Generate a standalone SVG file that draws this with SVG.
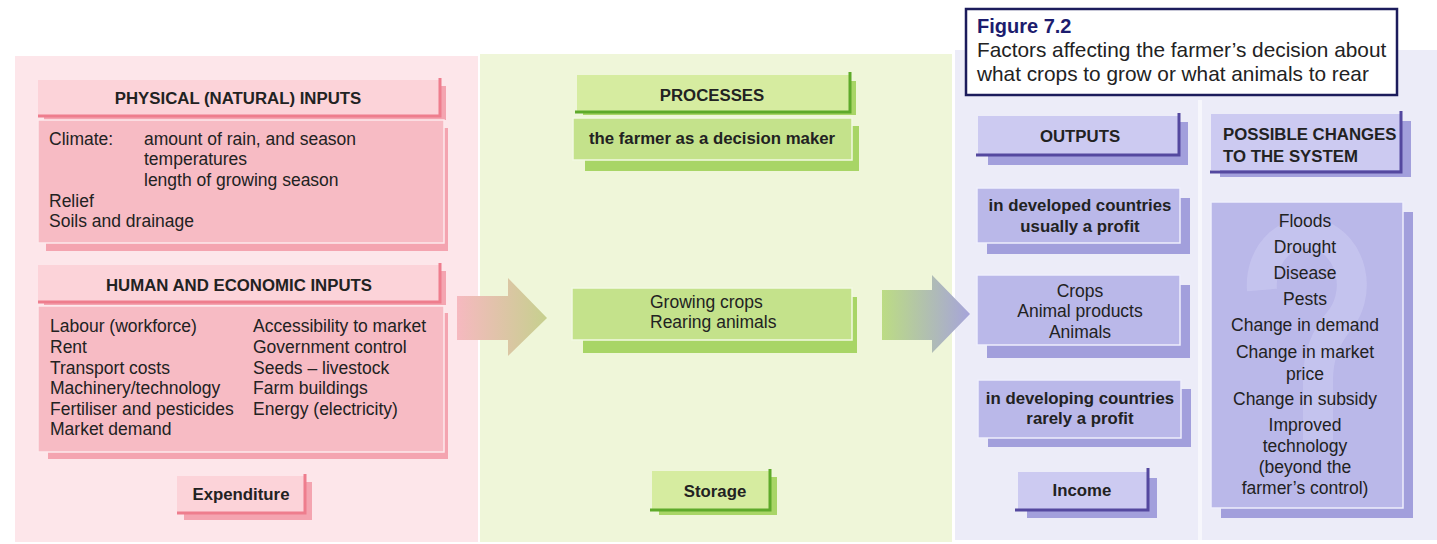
<svg xmlns="http://www.w3.org/2000/svg" width="1437" height="544" viewBox="0 0 1437 544">
<defs>
<linearGradient id="gArrowL" x1="0" y1="0" x2="1" y2="0">
<stop offset="0" stop-color="#f6b9c0"/>
<stop offset="1" stop-color="#c6d08e"/>
</linearGradient>
<linearGradient id="gArrowR" x1="0" y1="0" x2="1" y2="0">
<stop offset="0" stop-color="#bcdc84"/>
<stop offset="1" stop-color="#a6a4da"/>
</linearGradient>
<style>
text{font-family:"Liberation Sans","Open Sans",Arial,sans-serif;fill:#222;}
.t{font-size:17.5px;}
.b{font-size:16.8px;font-weight:700;}
.c{text-anchor:middle;}
.pk-hdr{fill:#fcd3d9;}
.pk-edge{fill:none;stroke:#ee7d8d;stroke-width:3;}
.pk-body{fill:#f7bbc4;stroke:#fde9ec;stroke-width:1.5;}
.pk-sh{fill:#f4a4b0;}
.gr-hdr{fill:#d6eca0;}
.gr-edge{fill:none;stroke:#5eaa2a;stroke-width:3;}
.gr-body{fill:#c4e28b;stroke:#f2f9e2;stroke-width:1.5;}
.gr-sh{fill:#a8d566;}
.bl-hdr{fill:#cccaf1;}
.bl-edge{fill:none;stroke:#54489f;stroke-width:3;}
.bl-body{fill:#bab8e9;stroke:#eeeefb;stroke-width:1.5;}
.bl-sh{fill:#a29fdc;}
</style>
</defs>
<rect x="0" y="0" width="1437" height="544" fill="#ffffff"/>
<rect x="15" y="56" width="463" height="486" fill="#fde6ea"/>
<rect x="480" y="54" width="472" height="488" fill="#eff6d9"/>
<rect x="955" y="50" width="482" height="490" fill="#ececf8"/>
<rect x="1198" y="100" width="4" height="440" fill="#f7f7fc"/>

<g id="connectors">
<polygon points="457,296 508,296 508,278 547,318 508,356 508,340 457,340" fill="url(#gArrowL)"/>
<polygon points="882,290 932,290 932,275 970,314 932,353 932,340 882,340" fill="url(#gArrowR)"/>
</g>

<g id="physical-inputs">
<rect class="pk-sh" x="44" y="86" width="402" height="34"/>
<rect class="pk-hdr" x="38" y="80" width="402" height="36"/>
<path class="pk-edge" d="M38,116 H440 V78"/>
<text class="b c" x="238" y="104">PHYSICAL (NATURAL) INPUTS</text>
<rect class="pk-sh" x="46" y="128" width="402" height="123"/>
<rect class="pk-body" x="38" y="120" width="406" height="123"/>
<text class="t" x="49" y="145">Climate:</text>
<text class="t" x="144" y="145">amount of rain, and season</text>
<text class="t" x="144" y="165">temperatures</text>
<text class="t" x="144" y="186">length of growing season</text>
<text class="t" x="49" y="207">Relief</text>
<text class="t" x="49" y="227">Soils and drainage</text>
</g>

<g id="human-inputs">
<rect class="pk-sh" x="44" y="271" width="402" height="34"/>
<rect class="pk-hdr" x="38" y="265" width="402" height="37"/>
<path class="pk-edge" d="M38,302 H440 V263"/>
<text class="b c" x="239" y="291">HUMAN AND ECONOMIC INPUTS</text>
<rect class="pk-sh" x="48" y="313" width="400" height="146"/>
<rect class="pk-body" x="38" y="306" width="406" height="146"/>
<text class="t" x="50" y="332">Labour (workforce)</text>
<text class="t" x="50" y="353">Rent</text>
<text class="t" x="50" y="374">Transport costs</text>
<text class="t" x="50" y="394">Machinery/technology</text>
<text class="t" x="50" y="415">Fertiliser and pesticides</text>
<text class="t" x="50" y="435">Market demand</text>
<text class="t" x="253" y="332">Accessibility to market</text>
<text class="t" x="253" y="353">Government control</text>
<text class="t" x="253" y="374">Seeds – livestock</text>
<text class="t" x="253" y="394">Farm buildings</text>
<text class="t" x="253" y="415">Energy (electricity)</text>
</g>

<g id="expenditure">
<rect class="pk-sh" x="184" y="482" width="128" height="38"/>
<rect class="pk-hdr" x="177" y="476" width="128" height="37"/>
<path class="pk-edge" d="M177,513 H305 V474"/>
<text class="b c" x="241" y="500">Expenditure</text>
</g>

<g id="processes">
<rect class="gr-sh" x="583" y="81" width="273" height="34"/>
<rect class="gr-hdr" x="577" y="75" width="273" height="37"/>
<path class="gr-edge" d="M575,112 H850 V72"/>
<text class="b c" x="712" y="101">PROCESSES</text>
<rect class="gr-sh" x="585" y="126" width="274" height="45"/>
<rect class="gr-body" x="573" y="118" width="279" height="42"/>
<text class="b c" x="712" y="144">the farmer as a decision maker</text>
</g>

<g id="growing">
<rect class="gr-sh" x="583" y="297" width="274" height="56"/>
<rect class="gr-body" x="572" y="288" width="280" height="52"/>
<text class="t" x="650" y="308">Growing crops</text>
<text class="t" x="650" y="328">Rearing animals</text>
</g>

<g id="storage">
<rect class="gr-sh" x="659" y="477" width="118" height="38"/>
<rect class="gr-hdr" x="652" y="471" width="118" height="38"/>
<path class="gr-edge" d="M650,510 H770 V469"/>
<text class="b c" x="715" y="497">Storage</text>
</g>

<g id="figure-caption">
<rect x="966" y="9" width="431" height="86" fill="#ffffff" stroke="#1c1c5c" stroke-width="2.5"/>
<text x="977" y="33" style="font-size:20px;font-weight:700;fill:#1c1c6e;">Figure 7.2</text>
<text x="977" y="57" style="font-size:20.8px;fill:#222;">Factors affecting the farmer’s decision about</text>
<text x="977" y="81" style="font-size:20.8px;fill:#222;">what crops to grow or what animals to rear</text>
</g>

<g id="outputs">
<rect class="bl-sh" x="988" y="122" width="200" height="43"/>
<rect class="bl-hdr" x="978" y="116" width="202" height="38"/>
<path class="bl-edge" d="M976,155 H1179 V113"/>
<text class="b c" x="1080" y="142">OUTPUTS</text>
</g>

<g id="possible-changes">
<rect class="bl-sh" x="1220" y="121" width="191" height="56"/>
<rect class="bl-hdr" x="1211" y="114" width="190" height="56"/>
<path class="bl-edge" d="M1210,172 H1401 V111"/>
<text class="b" x="1223" y="140">POSSIBLE CHANGES</text>
<text class="b" x="1223" y="162">TO THE SYSTEM</text>
</g>

<g id="developed">
<rect class="bl-sh" x="987" y="198" width="203" height="56"/>
<rect class="bl-body" x="977" y="188" width="203" height="55"/>
<text class="b c" x="1080" y="211">in developed countries</text>
<text class="b c" x="1080" y="232">usually a profit</text>
</g>

<g id="products">
<rect class="bl-sh" x="987" y="285" width="203" height="73"/>
<rect class="bl-body" x="977" y="275" width="203" height="70"/>
<text class="t c" x="1080" y="297">Crops</text>
<text class="t c" x="1080" y="317">Animal products</text>
<text class="t c" x="1080" y="338">Animals</text>
</g>

<g id="developing">
<rect class="bl-sh" x="988" y="389" width="203" height="58"/>
<rect class="bl-body" x="978" y="380" width="203" height="58"/>
<text class="b c" x="1080" y="404">in developing countries</text>
<text class="b c" x="1080" y="424">rarely a profit</text>
</g>

<g id="income">
<rect class="bl-sh" x="1027" y="478" width="130" height="40"/>
<rect class="bl-hdr" x="1018" y="472" width="130" height="38"/>
<path class="bl-edge" d="M1015,510 H1148 V468"/>
<text class="b c" x="1082" y="496">Income</text>
</g>

<g id="changes-list">
<rect class="bl-sh" x="1221" y="212" width="192" height="306"/>
<rect class="bl-body" x="1211" y="202" width="192" height="306"/>
<path d="M1262,290 A45,52 0 1 1 1340,320 Q1318,345 1318,380 V440" fill="none" stroke="#cbc9f1" stroke-width="30" opacity="0.6"/>
<text class="t c" x="1305" y="227">Floods</text>
<text class="t c" x="1305" y="253">Drought</text>
<text class="t c" x="1305" y="279">Disease</text>
<text class="t c" x="1305" y="305">Pests</text>
<text class="t c" x="1305" y="331">Change in demand</text>
<text class="t c" x="1305" y="358">Change in market</text>
<text class="t c" x="1305" y="380">price</text>
<text class="t c" x="1305" y="405">Change in subsidy</text>
<text class="t c" x="1305" y="431">Improved</text>
<text class="t c" x="1305" y="452">technology</text>
<text class="t c" x="1305" y="473">(beyond the</text>
<text class="t c" x="1305" y="494">farmer’s control)</text>
</g>
</svg>
